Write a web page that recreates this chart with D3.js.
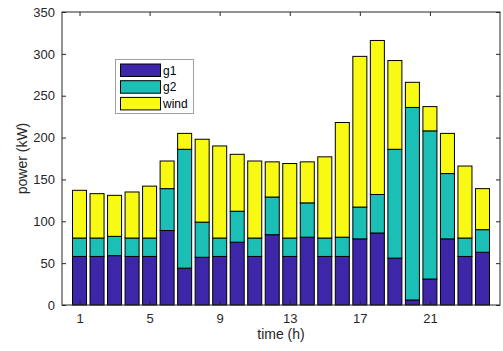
<!DOCTYPE html>
<html><head><meta charset="utf-8">
<script src="https://cdn.jsdelivr.net/npm/d3@7"></script>
<style>body{margin:0;background:#fff}svg{display:block}text{font-family:"Liberation Sans",Arial,sans-serif}</style>
</head><body>
<svg id="c" width="503" height="351"></svg>
<script>
const hours = d3.range(1, 25);
const g1   = [58,58,59,58,58,89,44,57,58,75,58,84,58,81,58,58,79,86,56,6,31,79,58,63];
const g2   = [22,22,23,22,22,50,142,42,22,37,22,45,22,41,22,23,38,46,130,230,177,78,22,27];
const wind = [57,53,49,55,62,33,19,99,110,68,92,42,89,49,97,137,180,184,106,30,29,48,86,49];
const seriesNames = ["g1","g2","wind"];
const colors = ["#3e26a8","#1bbfb6","#f9fa14"];
const xTicks = [1,5,9,13,17,21];
const yTicks = [0,50,100,150,200,250,300,350];

const svg = d3.select("#c");
const L = 62, R = 500, T = 12, B = 305;
const x = d3.scaleLinear().domain([0,25]).range([L,R]);
const y = d3.scaleLinear().domain([0,350]).range([B,T]);

const rows = hours.map((h,i)=>({h, g1:g1[i], g2:g2[i], wind:wind[i]}));
const stack = d3.stack().keys(seriesNames)(rows);
const bw = (x(1)-x(0))*0.8;

svg.append("rect").attr("x",L).attr("y",T).attr("width",R-L).attr("height",B-T).attr("fill","#fff");

stack.forEach((s,k)=>{
  svg.append("g").selectAll("rect").data(s).join("rect")
    .attr("x",d=>x(d.data.h)-bw/2).attr("width",bw)
    .attr("y",d=>y(d[1])).attr("height",d=>y(d[0])-y(d[1]))
    .attr("fill",colors[k]).attr("stroke","#000").attr("stroke-width",1);
});

// axes
const axisColor = "#262626";
const xb = svg.append("g").attr("transform",`translate(0,${B})`)
  .call(d3.axisBottom(x).tickValues(xTicks).tickSize(-4).tickPadding(9).tickFormat(d3.format("d")));
const xt = svg.append("g").attr("transform",`translate(0,${T})`)
  .call(d3.axisTop(x).tickValues(xTicks).tickSize(-4).tickFormat(""));
const yl = svg.append("g").attr("transform",`translate(${L},0)`)
  .call(d3.axisLeft(y).tickValues(yTicks).tickSize(-4).tickPadding(7));
const yr = svg.append("g").attr("transform",`translate(${R},0)`)
  .call(d3.axisRight(y).tickValues(yTicks).tickSize(-4).tickFormat(""));
[xb,xt,yl,yr].forEach(g=>{
  g.select(".domain").remove();
  g.selectAll("line").attr("stroke",axisColor);
  g.selectAll("text").attr("fill",axisColor).style("font-size","13px").style("font-family","'Liberation Sans',Arial,sans-serif");
});
svg.append("rect").attr("x",L).attr("y",T).attr("width",R-L).attr("height",B-T)
  .attr("fill","none").attr("stroke",axisColor).attr("stroke-width",1);

svg.append("text").attr("x",(L+R)/2).attr("y",339).attr("text-anchor","middle")
  .attr("fill",axisColor).style("font-size","14px").text("time (h)");
svg.append("text").attr("transform",`translate(27,${(T+B)/2}) rotate(-90)`).attr("text-anchor","middle")
  .attr("fill",axisColor).style("font-size","14px").text("power (kW)");

// legend
const lg = svg.append("g");
lg.append("rect").attr("x",115.5).attr("y",59.5).attr("width",78).attr("height",54)
  .attr("fill","#fff").attr("stroke","#a0a0a0");
seriesNames.forEach((n,k)=>{
  lg.append("rect").attr("x",120.5).attr("y",64+k*16.7).attr("width",40).attr("height",12.5)
    .attr("fill",colors[k]).attr("stroke","#000");
  lg.append("text").attr("x",163).attr("y",70.5+k*16.7).attr("dy","0.35em")
    .attr("fill","#000").style("font-size","12px").text(n);
});
</script>
</body></html>
